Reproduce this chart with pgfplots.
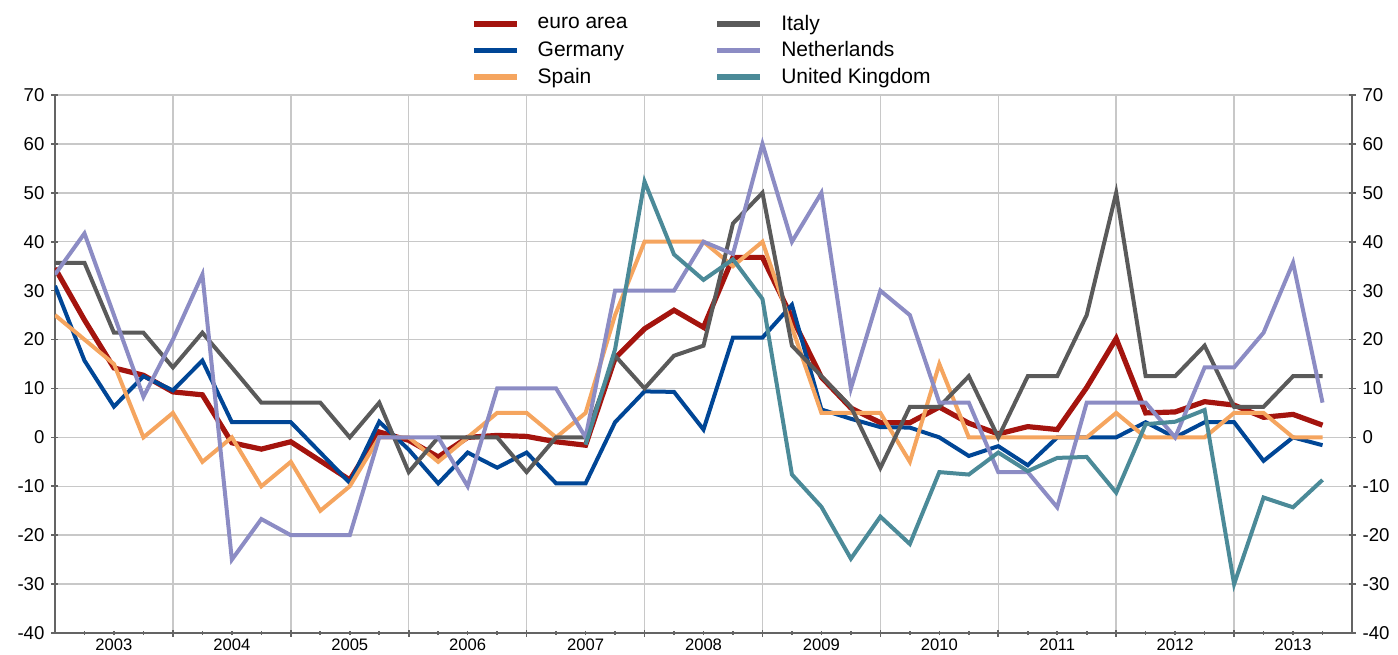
\documentclass[border=0pt]{standalone}
\usepackage{fontspec}
\setmainfont{Liberation Sans}
\usepackage{pgfplots}
\pgfplotsset{compat=1.18}
\usepackage{pgfplotstable}
\usetikzlibrary{calc}

\definecolor{euro}{RGB}{164,20,14}
\definecolor{germany}{RGB}{0,70,150}
\definecolor{spain}{RGB}{245,165,95}
\definecolor{italy}{RGB}{90,90,90}
\definecolor{nl}{RGB}{140,140,196}
\definecolor{uk}{RGB}{75,138,152}
\definecolor{axisgray}{RGB}{100,100,100}
\definecolor{gridgray}{RGB}{200,200,200}

\pgfplotstableread{
k euro germany spain italy nl
0 34.6 31.0 25 35.7 33.3
1 24.0 15.7 20 35.7 41.7
2 14.2 6.3 15 21.4 25
3 12.7 12.5 0 21.4 8.3
4 9.3 9.6 5 14.3 20
5 8.7 15.7 -5 21.4 33.3
6 -1.1 3.1 0 14.3 -25
7 -2.4 3.1 -10 7.1 -16.7
8 -0.9 3.1 -5 7.1 -20
9 -4.8 -3.1 -15 7.1 -20
10 -8.7 -9.3 -10 0 -20
11 1.1 3.2 0 7.1 0
12 -0.6 -2.5 0 -7.1 0
13 -4.0 -9.4 -5 0 0
14 0.0 -3.1 0 0 -10
15 0.4 -6.2 5 0 10
16 0.2 -3.1 5 -7.1 10
17 -0.9 -9.4 0 0 10
18 -1.6 -9.4 5 0 0
19 16.2 3.1 25 16.7 30
20 22.2 9.4 40 10 30
21 26.0 9.3 40 16.7 30
22 22.5 1.6 40 18.75 40
23 36.8 20.4 35 43.75 37.5
24 36.8 20.4 40 50 60
25 24.5 27.1 22.5 18.75 40
26 12.3 5.7 5 12.5 50
27 6.0 3.8 5 6.25 10
28 3.0 2.1 5 -6.25 30
29 3.0 2.0 -5 6.25 25
30 6.2 0.0 15 6.25 7.1
31 2.9 -3.8 0 12.5 7.1
32 0.7 -1.8 0 0 -7.1
33 2.2 -5.7 0 12.5 -7.1
34 1.6 0.0 0 12.5 -14.3
35 10.2 0.0 0 25 7.1
36 20.2 0.0 5 50 7.1
37 5.0 3.1 0 12.5 7.1
38 5.2 0.0 0 12.5 0
39 7.3 3.1 0 18.75 14.3
40 6.6 3.1 5 6.25 14.3
41 4.1 -4.8 5 6.25 21.4
42 4.7 0.0 0 12.5 35.7
43 2.5 -1.6 0 12.5 7.1
}\maindata

\pgfplotstableread{
k uk
18 -1.5
19 18
20 52.3
21 37.4
22 32.2
23 36.4
24 28.3
25 -7.6
26 -14.2
27 -24.8
28 -16.2
29 -21.8
30 -7.1
31 -7.6
32 -3.1
33 -6.9
34 -4.2
35 -4.0
36 -11.3
37 2.7
38 3.2
39 5.6
40 -30
41 -12.3
42 -14.3
43 -8.7
}\ukdata

\pgfplotsset{
  common/.style={
    scale only axis, width=648.5pt, height=269pt,
    xmin=0, xmax=44, ymin=-40, ymax=70,
    ytick={-40,-30,...,70},
    tick align=inside,
    axis line style={-, draw=axisgray, line width=1pt},
    tick style={draw=axisgray, line width=0.8pt},
    major tick length=3.5pt, minor tick length=1.8pt,
    /pgf/number format/assume math mode=true,
    yticklabel style={font=\fontsize{9.3}{11}\selectfont},
  },
  noarrows/.style={
    every outer x axis line/.append style={-},
    every outer y axis line/.append style={-},
    every inner x axis line/.append style={-},
    every inner y axis line/.append style={-},
    x axis line style={-}, y axis line style={-},
  },
}

\begin{document}
\begin{tikzpicture}
\begin{axis}[common, name=main,
  axis x line=bottom, axis y line=left, noarrows,
  xtick={4,8,...,40}, xticklabels={},
  minor xtick={1,2,3,5,6,7,9,10,11,13,14,15,17,18,19,21,22,23,25,26,27,29,30,31,33,34,35,37,38,39,41,42,43},
  extra x ticks={2,6,10,14,18,22,26,30,34,38,42},
  extra x tick labels={2003,2004,2005,2006,2007,2008,2009,2010,2011,2012,2013},
  extra x tick style={grid=none, major tick length=0pt,
     xticklabel style={font=\fontsize{8.3}{10}\selectfont, inner ysep=2.5pt}},
  xmajorgrids, ymajorgrids,
  grid style={draw=gridgray, line width=0.75pt},
  legend columns=2,
  legend cell align=left,
  legend image code/.code={\draw[#1, line width=2.8pt] (0pt,0pt) -- (21.5pt,0pt);},
  legend style={draw=none, fill=none, at={(axis description cs:0.3205,1.157)}, anchor=north west,
    font=\fontsize{10.5}{12.6}\selectfont, row sep=0.2pt, inner sep=0pt},
]
\addlegendimage{color=euro}\addlegendentry{\makebox[93.5pt][l]{\hspace{7pt}euro area}}
\addlegendimage{color=italy}\addlegendentry{\hspace{7pt}Italy}
\addlegendimage{color=germany}\addlegendentry{\makebox[93.5pt][l]{\hspace{7pt}Germany}}
\addlegendimage{color=nl}\addlegendentry{\hspace{7pt}Netherlands}
\addlegendimage{color=spain}\addlegendentry{\makebox[93.5pt][l]{\hspace{7pt}Spain}}
\addlegendimage{color=uk}\addlegendentry{\hspace{7pt}United Kingdom}

\addplot[forget plot, color=euro, line width=2.6pt] table[x=k, y=euro] {\maindata};
\addplot[forget plot, color=germany, line width=2pt] table[x=k, y=germany] {\maindata};
\addplot[forget plot, color=spain, line width=2pt] table[x=k, y=spain] {\maindata};
\addplot[forget plot, color=italy, line width=2pt] table[x=k, y=italy] {\maindata};
\addplot[forget plot, color=nl, line width=2pt] table[x=k, y=nl] {\maindata};
\addplot[forget plot, color=uk, line width=2pt] table[x=k, y=uk] {\ukdata};
\end{axis}
\begin{axis}[common,
  axis x line=none, axis y line=right, noarrows,
  yticklabel pos=right,
]
\addplot[draw=none, forget plot] coordinates {(0,0)};
\end{axis}
\pgfresetboundingbox
\path ($(main.south west)+(-27.5pt,-10.5pt)$) rectangle ($(main.north east)+(23pt,47.5pt)$);
\end{tikzpicture}
\end{document}
